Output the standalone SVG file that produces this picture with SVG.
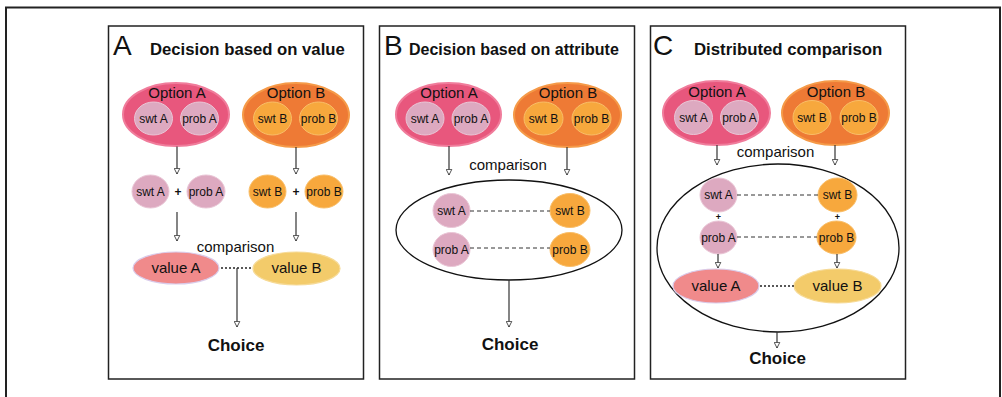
<svg xmlns="http://www.w3.org/2000/svg" width="1002" height="397" viewBox="0 0 1002 397">
<defs>
<marker id="arr" viewBox="0 0 10 10" refX="9" refY="5" markerWidth="7" markerHeight="7" markerUnits="userSpaceOnUse" orient="auto">
<path d="M1,1 L9,5 L1,9 Z" fill="#fff" stroke="#333" stroke-width="1.2"/>
</marker>
<style>
text{font-family:"Liberation Sans",Arial,sans-serif;fill:#111}
.big{font-size:28px}
.ttl{font-size:16.5px;font-weight:bold}
.opt{font-size:15px;text-anchor:middle}
.sm{font-size:12px;text-anchor:middle}
.cmp{font-size:15px;text-anchor:middle}
.val{font-size:15px;text-anchor:middle}
.ch{font-size:17px;font-weight:bold;text-anchor:middle}
.plus{font-size:12px;font-weight:bold;text-anchor:middle}
.panel{fill:#fff;stroke:#222;stroke-width:1.5}
.optA{fill:#E8577D;stroke:#F07C9B;stroke-width:2}
.optB{fill:#EE7A35;stroke:#F59A48;stroke-width:2}
.inA{fill:#DDA9C0;stroke:#EAC6D6;stroke-width:1}
.inB{fill:#F7A83D;stroke:#F9BE68;stroke-width:1}
.valA{fill:#F08A8B;stroke:#D9CBEA;stroke-width:1.2}
.valB{fill:#F3CB6A;stroke:#F6DA96;stroke-width:1.2}
.big-ell{fill:#fff;stroke:#111;stroke-width:1.3}
.ar{stroke:#333;stroke-width:1.2;fill:none;marker-end:url(#arr)}
.dash{stroke:#333;stroke-width:1;stroke-dasharray:4 3;fill:none}
.dot{stroke:#222;stroke-width:1.5;stroke-dasharray:2 2;fill:none}
</style>
</defs>
<rect width="1002" height="397" fill="#fff"/>
<rect x="6" y="7.5" width="994" height="400" fill="none" stroke="#222" stroke-width="2"/>

<!-- Panel A -->
<g id="panelA">
<rect class="panel" x="108.5" y="26" width="255" height="353"/>
<text class="big" x="113" y="55">A</text>
<text class="ttl" x="150" y="55" style="font-size:16.7px">Decision based on value</text>
</g>
<g id="A-optionA">
<ellipse class="optA" cx="176" cy="114.5" rx="53" ry="31.5"/>
<text class="opt" x="177" y="98">Option A</text>
<ellipse class="inA" cx="153.5" cy="118.5" rx="19" ry="16.5"/>
<text class="sm" x="153.5" y="122.5">swt A</text>
<ellipse class="inA" cx="199.5" cy="118.5" rx="19" ry="16.5"/>
<text class="sm" x="199.5" y="122.5">prob A</text>
</g>
<g id="A-optionB">
<ellipse class="optB" cx="296" cy="115" rx="53" ry="32"/>
<text class="opt" x="296" y="98">Option B</text>
<ellipse class="inB" cx="272.5" cy="118.5" rx="19" ry="16.5"/>
<text class="sm" x="272.5" y="122.5">swt B</text>
<ellipse class="inB" cx="318.5" cy="118.5" rx="19" ry="16.5"/>
<text class="sm" x="318.5" y="122.5">prob B</text>
</g>
<g id="A-sumA">
<ellipse class="inA" cx="150.5" cy="191.5" rx="18.5" ry="16.5"/>
<text class="sm" x="150.5" y="195.5">swt A</text>
<text class="plus" x="178" y="195.5">+</text>
<ellipse class="inA" cx="206" cy="191.5" rx="19" ry="16.5"/>
<text class="sm" x="206" y="195.5">prob A</text>
</g>
<g id="A-sumB">
<ellipse class="inB" cx="267.5" cy="191.5" rx="18.5" ry="16.5"/>
<text class="sm" x="267.5" y="195.5">swt B</text>
<text class="plus" x="296" y="195.5">+</text>
<ellipse class="inB" cx="324" cy="191.5" rx="19" ry="16.5"/>
<text class="sm" x="324" y="195.5">prob B</text>
</g>
<g id="A-values">
<text class="cmp" x="235.5" y="252">comparison</text>
<ellipse class="valA" cx="176" cy="268" rx="43" ry="16"/>
<text class="val" x="176" y="273">value A</text>
<ellipse class="valB" cx="296.5" cy="268.5" rx="43.5" ry="16.5"/>
<text class="val" x="296.5" y="273">value B</text>
</g>
<g id="A-choice">
<text class="ch" x="236" y="351">Choice</text>
</g>

<!-- Panel B -->
<g id="panelB">
<rect class="panel" x="379.5" y="26" width="255" height="353"/>
<text class="big" x="384" y="55">B</text>
<text class="ttl" x="409" y="55" style="font-size:16px">Decision based on attribute</text>
</g>
<g id="B-optionA">
<ellipse class="optA" cx="448.5" cy="114.5" rx="52.5" ry="31.5"/>
<text class="opt" x="449" y="98">Option A</text>
<ellipse class="inA" cx="425" cy="118.5" rx="19" ry="16.5"/>
<text class="sm" x="425" y="122.5">swt A</text>
<ellipse class="inA" cx="471" cy="118.5" rx="19" ry="16.5"/>
<text class="sm" x="471" y="122.5">prob A</text>
</g>
<g id="B-optionB">
<ellipse class="optB" cx="567.5" cy="115" rx="53.5" ry="32"/>
<text class="opt" x="568" y="98">Option B</text>
<ellipse class="inB" cx="543.5" cy="118.5" rx="19.5" ry="16.5"/>
<text class="sm" x="543.5" y="122.5">swt B</text>
<ellipse class="inB" cx="591.5" cy="118.5" rx="19.5" ry="16.5"/>
<text class="sm" x="591.5" y="122.5">prob B</text>
</g>
<g id="B-comparison">
<text class="cmp" x="508" y="170">comparison</text>
<ellipse class="big-ell" cx="509" cy="230" rx="113" ry="50"/>
<ellipse class="inA" cx="451.5" cy="210.5" rx="18.5" ry="17"/>
<text class="sm" x="451.5" y="214.5">swt A</text>
<ellipse class="inB" cx="570" cy="210.5" rx="20" ry="17"/>
<text class="sm" x="570" y="214.5">swt B</text>
<ellipse class="inA" cx="451.5" cy="249.5" rx="18.5" ry="17"/>
<text class="sm" x="451.5" y="253.5">prob A</text>
<ellipse class="inB" cx="570" cy="249.5" rx="20" ry="17"/>
<text class="sm" x="570" y="253.5">prob B</text>
</g>
<g id="B-choice">
<text class="ch" x="510" y="350">Choice</text>
</g>

<!-- Panel C -->
<g id="panelC">
<rect class="panel" x="650.5" y="26" width="255" height="353"/>
<text class="big" x="653" y="55">C</text>
<text class="ttl" x="694" y="55" style="font-size:16.8px">Distributed comparison</text>
</g>
<g id="C-optionA">
<ellipse class="optA" cx="716.5" cy="113" rx="53.5" ry="32"/>
<text class="opt" x="717" y="97">Option A</text>
<ellipse class="inA" cx="693.5" cy="117.5" rx="19" ry="17"/>
<text class="sm" x="693.5" y="121.5">swt A</text>
<ellipse class="inA" cx="739.5" cy="117.5" rx="19" ry="17"/>
<text class="sm" x="739.5" y="121.5">prob A</text>
</g>
<g id="C-optionB">
<ellipse class="optB" cx="835.5" cy="113" rx="53.5" ry="32"/>
<text class="opt" x="836" y="97">Option B</text>
<ellipse class="inB" cx="812" cy="117.5" rx="19" ry="17"/>
<text class="sm" x="812" y="121.5">swt B</text>
<ellipse class="inB" cx="859" cy="117.5" rx="19" ry="17"/>
<text class="sm" x="859" y="121.5">prob B</text>
</g>
<g id="C-comparison">
<text class="cmp" x="775.5" y="157">comparison</text>
<ellipse class="big-ell" cx="778" cy="248" rx="121" ry="84"/>
<ellipse class="inA" cx="718.5" cy="195" rx="18.5" ry="17"/>
<text class="sm" x="718.5" y="199">swt A</text>
<ellipse class="inB" cx="837.5" cy="195" rx="19.5" ry="17"/>
<text class="sm" x="837.5" y="199">swt B</text>
<text class="plus" x="718.5" y="219.5" style="font-size:9px">+</text>
<text class="plus" x="837.5" y="219.5" style="font-size:9px">+</text>
<ellipse class="inA" cx="718.5" cy="237.5" rx="18.5" ry="16.5"/>
<text class="sm" x="718.5" y="241.5">prob A</text>
<ellipse class="inB" cx="836.5" cy="237.5" rx="19.5" ry="16.5"/>
<text class="sm" x="836.5" y="241.5">prob B</text>
<ellipse class="valA" cx="716" cy="286" rx="43" ry="17"/>
<text class="val" x="716" y="291">value A</text>
<ellipse class="valB" cx="837.5" cy="286" rx="43.5" ry="17"/>
<text class="val" x="837.5" y="291">value B</text>
</g>
<g id="C-choice">
<text class="ch" x="777.5" y="364">Choice</text>
</g>

<g id="connectors">
<!-- A -->
<line class="ar" x1="177" y1="146.5" x2="177" y2="174"/>
<line class="ar" x1="296" y1="147" x2="296" y2="174"/>
<line class="ar" x1="177" y1="212" x2="177" y2="241"/>
<line class="ar" x1="296" y1="212" x2="296" y2="241"/>
<line class="dot" x1="221" y1="268" x2="253" y2="268"/>
<line class="ar" x1="237" y1="268" x2="237" y2="327"/>
<!-- B -->
<line class="ar" x1="449" y1="146" x2="449" y2="175"/>
<line class="ar" x1="567" y1="147" x2="567" y2="175"/>
<line class="dash" x1="470" y1="211" x2="550" y2="211"/>
<line class="dash" x1="470" y1="248" x2="550" y2="248"/>
<line class="ar" x1="509" y1="280" x2="509" y2="327"/>
<!-- C -->
<line class="ar" x1="717" y1="145" x2="717" y2="165"/>
<line class="ar" x1="835" y1="145" x2="835" y2="165"/>
<line class="dash" x1="737" y1="195" x2="818" y2="195"/>
<line class="dash" x1="737" y1="237" x2="817" y2="237"/>
<line class="ar" x1="718" y1="254" x2="718" y2="268"/>
<line class="ar" x1="837" y1="254" x2="837" y2="268"/>
<line class="dot" x1="760" y1="286" x2="794" y2="286"/>
<line class="ar" x1="777" y1="332" x2="777" y2="348"/>
</g>
</svg>
